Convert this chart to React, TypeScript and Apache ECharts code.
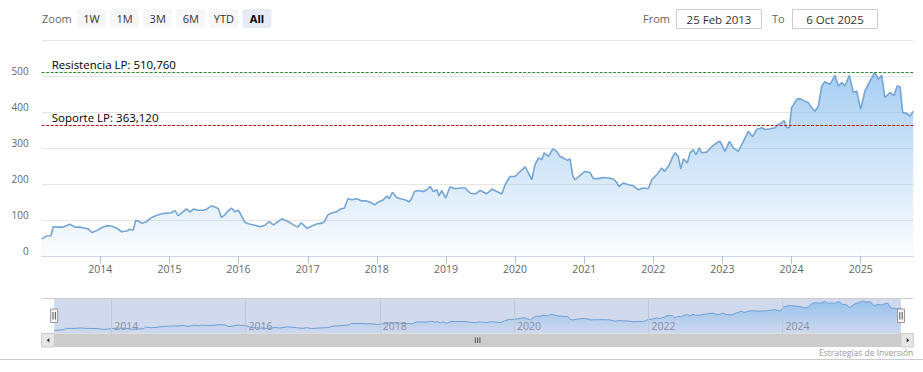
import React, { useEffect, useRef } from "react";
import * as echarts from "echarts";

// ---- data ----
const dates = [
  "2013-02-25","2013-03-22","2013-04-15","2013-04-27","2013-05-24","2013-06-19","2013-07-25","2013-08-20","2013-09-15","2013-10-12","2013-10-29","2013-11-16","2013-12-12",
  "2014-01-07","2014-02-03","2014-03-01","2014-03-28","2014-04-23","2014-05-20","2014-06-07","2014-06-24","2014-07-06","2014-07-20","2014-08-07","2014-09-02","2014-09-29","2014-10-25","2014-11-20","2014-12-17",
  "2015-01-12","2015-01-30","2015-02-17","2015-03-15","2015-04-01","2015-04-19","2015-05-07","2015-06-02","2015-06-28","2015-07-16","2015-08-12","2015-08-29","2015-09-16","2015-10-03","2015-10-21","2015-11-08","2015-11-25","2015-12-13","2015-12-31",
  "2016-01-17","2016-02-04","2016-03-02","2016-03-28","2016-04-25","2016-05-22","2016-06-11","2016-07-04","2016-08-17","2016-09-21","2016-10-18","2016-11-10","2016-11-27","2016-12-27",
  "2017-01-23","2017-02-18","2017-03-17","2017-03-30","2017-04-17","2017-05-08","2017-06-04","2017-06-21","2017-07-14","2017-08-01","2017-08-22","2017-09-17","2017-10-14","2017-11-09","2017-12-06","2017-12-19",
  "2018-01-10","2018-02-05","2018-02-23","2018-03-07","2018-03-25","2018-04-17","2018-05-13","2018-06-09","2018-06-21","2018-07-05","2018-07-19","2018-08-09","2018-09-04","2018-09-22","2018-10-10","2018-10-27","2018-11-14","2018-11-26","2018-12-10","2018-12-31",
  "2019-01-23","2019-02-19","2019-03-17","2019-04-13","2019-05-09","2019-06-04","2019-07-01","2019-08-05","2019-09-01","2019-09-27","2019-10-23","2019-11-10","2019-12-06",
  "2020-01-02","2020-01-28","2020-02-24","2020-03-12","2020-03-30","2020-04-16","2020-05-04","2020-05-22","2020-06-03","2020-06-26","2020-07-19","2020-08-09","2020-08-26","2020-09-13","2020-10-04","2020-10-18","2020-11-02","2020-11-14","2020-12-10",
  "2021-01-05","2021-02-01","2021-02-18","2021-03-17","2021-04-12","2021-05-09","2021-06-04","2021-06-22","2021-07-04","2021-07-27","2021-08-22","2021-09-18","2021-10-14","2021-11-09","2021-12-06","2021-12-24",
  "2022-01-19","2022-02-15","2022-02-28","2022-03-27","2022-04-14","2022-04-26","2022-05-13","2022-05-26","2022-06-09","2022-06-30","2022-07-14","2022-07-31","2022-08-15","2022-09-01","2022-09-14","2022-10-10","2022-11-06","2022-12-02","2022-12-20",
  "2023-01-15","2023-02-07","2023-02-28","2023-03-26","2023-04-22","2023-05-18","2023-06-10","2023-07-01","2023-07-28","2023-08-14","2023-09-10","2023-10-06","2023-10-24","2023-11-11","2023-11-24","2023-12-07","2023-12-21",
  "2024-01-02","2024-01-29","2024-02-15","2024-03-12","2024-03-30","2024-04-17","2024-05-04","2024-05-22","2024-06-09","2024-06-26","2024-07-23","2024-08-18","2024-09-05","2024-09-23","2024-10-10","2024-11-02","2024-11-23","2024-12-11",
  "2025-01-01","2025-01-23","2025-02-19","2025-03-17","2025-04-04","2025-04-22","2025-05-09","2025-06-05","2025-06-26","2025-07-13","2025-07-28","2025-08-11","2025-09-01","2025-09-18","2025-10-06"
];
const values = [
  47,55,56,81,80,80,88,80,80,77,75,65,70,
  78,84,83,77,67,69,74,72,98,97,91,95,107,112,117,119,
  120,126,112,123,131,122,130,127,127,130,139,136,132,107,114,126,133,123,127,
  111,93,88,85,81,86,95,86,103,95,86,80,92,77,
  83,89,91,95,114,119,123,130,133,159,156,159,153,153,147,142,
  150,156,167,159,177,162,158,154,150,161,179,182,179,184,193,179,184,167,182,161,
  192,187,189,189,175,172,182,173,186,179,172,198,221,
  221,235,248,231,212,254,273,268,287,277,298,291,277,273,266,270,221,212,224,
  235,232,215,215,218,217,214,204,193,203,198,195,184,189,187,212,
  226,245,235,254,277,287,277,242,270,259,287,296,282,301,287,289,304,315,319,
  291,319,301,291,319,347,332,352,357,352,354,357,366,371,377,357,357,
  413,436,438,431,427,413,403,417,473,485,478,503,473,483,473,503,455,459,
  408,459,487,511,492,503,441,455,447,473,471,399,397,389,403
];
const resistance = 510.76;
const support = 363.12;
const navYears = [2014, 2016, 2018, 2020, 2022, 2024];
const rangeButtons = ["1W", "1M", "3M", "6M", "YTD", "All"];
const selectedButton = "All";
const monthNames = ["Jan","Feb","Mar","Apr","May","Jun","Jul","Aug","Sep","Oct","Nov","Dec"];
const creditText = "Estrategias de Inversión";

const W = 923;
const H = 372;
const FONT = '"Open Sans", "DejaVu Sans", sans-serif';
const ONE_YEAR = 365 * 24 * 3600 * 1000;

function toTs(s: string) {
  const [y, m, d] = s.split("-").map(Number);
  return Date.UTC(y, m - 1, d);
}
function fmtDate(ts: number) {
  const d = new Date(ts);
  return `${d.getUTCDate()} ${monthNames[d.getUTCMonth()]} ${d.getUTCFullYear()}`;
}
function fmtNum(v: number) {
  return v.toFixed(3).replace(".", ",");
}

export default function App() {
  const ref = useRef<HTMLDivElement>(null);

  useEffect(() => {
    if (!ref.current) return;
    const chart = echarts.init(ref.current, null, { renderer: "svg", width: W, height: H });

    const tsData = dates.map((d, i) => [toTs(d), values[i]]);
    const tMin = tsData[0][0] as number;
    const tMax = tsData[tsData.length - 1][0] as number;
    const navTs = navYears.map((y) => Date.UTC(y, 0, 1));
    const grad = () =>
      new echarts.graphic.LinearGradient(0, 0, 0, 1, [
        { offset: 0, color: "rgba(124,181,236,0.95)" },
        { offset: 1, color: "rgba(124,181,236,0.04)" },
      ]);
    const yearFmt = (v: number) => {
      const d = new Date(v);
      return d.getUTCMonth() === 0 && d.getUTCDate() === 1 ? String(d.getUTCFullYear()) : "";
    };

    const graphics: any[] = [];
    graphics.push({
      type: "text", x: 42, y: 18.5,
      style: { text: "Zoom", fill: "#666666", fontSize: 11, fontFamily: FONT, textAlign: "left", textVerticalAlign: "middle", align: "left", verticalAlign: "middle" },
    });
    rangeButtons.forEach((b, i) => {
      const x = 77 + i * 33.1;
      const sel = b === selectedButton;
      graphics.push({
        type: "rect", shape: { x, y: 9, width: 29, height: 19, r: 2 },
        style: { fill: sel ? "#e6ebf5" : "#f7f7f7" },
      });
      graphics.push({
        type: "text", x: x + 14.5, y: 18.5,
        style: { text: b, fill: sel ? "#000000" : "#333333", fontSize: 11, fontWeight: sel ? "bold" : "normal", fontFamily: FONT, textAlign: "center", textVerticalAlign: "middle", align: "center", verticalAlign: "middle" },
      });
    });
    const inputs = [
      { label: "From", lx: 643, bx: 676.5, text: fmtDate(tMin) },
      { label: "To", lx: 772, bx: 792.5, text: fmtDate(tMax) },
    ];
    inputs.forEach((inp) => {
      graphics.push({
        type: "text", x: inp.lx, y: 18.5,
        style: { text: inp.label, fill: "#666666", fontSize: 11, fontFamily: FONT, textAlign: "left", textVerticalAlign: "middle", align: "left", verticalAlign: "middle" },
      });
      graphics.push({
        type: "rect", shape: { x: inp.bx, y: 9.5, width: 85, height: 19 },
        style: { fill: "#ffffff", stroke: "#cccccc", lineWidth: 1 },
      });
      graphics.push({
        type: "text", x: inp.bx + 42.5, y: 19,
        style: { text: inp.text, fill: "#333333", fontSize: 11.5, fontFamily: FONT, textAlign: "center", textVerticalAlign: "middle", align: "center", verticalAlign: "middle" },
      });
    });
    graphics.push({ type: "line", shape: { x1: 41.7, y1: 298.5, x2: 913.3, y2: 298.5 }, style: { stroke: "#cccccc", lineWidth: 1 }, z: 10 });
    [54.2, 901].forEach((hx) => {
      graphics.push({ type: "rect", shape: { x: hx - 3.5, y: 309, width: 7, height: 13.5 }, style: { fill: "#f2f2f2", stroke: "#999999", lineWidth: 1 }, z: 12 });
      graphics.push({ type: "line", shape: { x1: hx - 1.2, y1: 312, x2: hx - 1.2, y2: 319.5 }, style: { stroke: "#333333", lineWidth: 0.8 }, z: 13 });
      graphics.push({ type: "line", shape: { x1: hx + 1.2, y1: 312, x2: hx + 1.2, y2: 319.5 }, style: { stroke: "#333333", lineWidth: 0.8 }, z: 13 });
    });
    graphics.push({ type: "rect", shape: { x: 41.7, y: 333.5, width: 871.6, height: 13.5 }, style: { fill: "#f2f2f2" }, z: 10 });
    graphics.push({ type: "rect", shape: { x: 54.2, y: 333.5, width: 846.8, height: 13.5 }, style: { fill: "#cccccc" }, z: 11 });
    graphics.push({ type: "rect", shape: { x: 41.7, y: 333.5, width: 12.5, height: 13.5 }, style: { fill: "#e6e6e6", stroke: "#cccccc", lineWidth: 1 }, z: 11 });
    graphics.push({ type: "rect", shape: { x: 901, y: 333.5, width: 12.3, height: 13.5 }, style: { fill: "#e6e6e6", stroke: "#cccccc", lineWidth: 1 }, z: 11 });
    graphics.push({ type: "polygon", shape: { points: [[46.7, 340.2], [49.4, 338], [49.4, 342.4]] }, style: { fill: "#333333" }, z: 12 });
    graphics.push({ type: "polygon", shape: { points: [[909.3, 340.2], [906.6, 338], [906.6, 342.4]] }, style: { fill: "#333333" }, z: 12 });
    [475.3, 477.6, 479.9].forEach((rx) => {
      graphics.push({ type: "line", shape: { x1: rx, y1: 337.5, x2: rx, y2: 343 }, style: { stroke: "#333333", lineWidth: 0.8 }, z: 12 });
    });
    graphics.push({ type: "line", shape: { x1: 0, y1: 359.5, x2: 923, y2: 359.5 }, style: { stroke: "#cccccc", lineWidth: 1 } });
    graphics.push({
      type: "text", x: 913.3, y: 352,
      style: { text: creditText, fill: "#999999", fontSize: 8.5, fontFamily: FONT, textAlign: "right", textVerticalAlign: "middle", align: "right", verticalAlign: "middle" },
    });

    const lineLabel = {
      show: true, position: "insideStartTop", distance: [10, 2],
      color: "#000000", fontSize: 11.5, fontFamily: FONT,
    };

    const mkLevel = (name: string, value: number, color: string) => ({
      type: "line", xAxisIndex: 0, yAxisIndex: 0, data: [] as any[], silent: true,
      symbol: "none", z: 5,
      markLine: {
        silent: true, symbol: "none",
        lineStyle: { color, type: [3, 1.5], width: 1, opacity: 1 },
        label: { ...lineLabel, formatter: `${name}: ${fmtNum(value)}` },
        data: [{ yAxis: value }],
      },
    });

    chart.setOption({
      animation: false,
      useUTC: true,
      backgroundColor: "#ffffff",
      textStyle: { fontFamily: FONT },
      grid: [
        { left: 41.7, right: W - 913.3, top: 40.5, height: 215.3, containLabel: false },
        { left: 54.2, right: W - 901, top: 298.5, height: 35, containLabel: false },
      ],
      xAxis: [
        {
          type: "time", gridIndex: 0, min: tMin, max: tMax,
          minInterval: ONE_YEAR, maxInterval: ONE_YEAR,
          axisLine: { show: true, lineStyle: { color: "#ccd6eb", width: 1 } },
          axisTick: { show: true, length: 8, interval: 0, lineStyle: { color: "#b5c2dc", width: 1 } },
          axisLabel: { formatter: yearFmt, showMinLabel: false, showMaxLabel: false, color: "#666666", fontSize: 10.5, fontFamily: FONT, margin: 8, hideOverlap: false },
          splitLine: { show: false },
        },
        {
          type: "time", gridIndex: 1, min: tMin, max: tMax, show: false,
          splitLine: { show: false },
        },
      ],
      yAxis: [
        {
          type: "value", gridIndex: 0, min: 0, max: 600, interval: 100,
          axisLine: { show: false }, axisTick: { show: false },
          axisLabel: { color: "#666666", fontSize: 10, fontFamily: FONT, margin: 13, verticalAlign: "bottom", showMaxLabel: false },
          splitLine: { show: true, lineStyle: { color: "#e6e6e6", width: 1 } },
        },
        {
          type: "value", gridIndex: 1, min: 0, max: 550, show: false,
          splitLine: { show: false },
        },
      ],
      series: [
        {
          type: "line", xAxisIndex: 0, yAxisIndex: 0, data: tsData,
          symbol: "none", showSymbol: false, silent: true,
          lineStyle: { color: "#74a5d6", width: 1.6 },
          areaStyle: { color: grad() },
        },
        mkLevel("Resistencia LP", resistance, "#2f8a2f"),
        mkLevel("Soporte LP", support, "#b81414"),
        {
          type: "line", xAxisIndex: 1, yAxisIndex: 1, data: tsData,
          symbol: "none", showSymbol: false, silent: true,
          lineStyle: { color: "#6f9fd6", width: 1 },
          areaStyle: { color: grad() },
          markArea: {
            silent: true,
            itemStyle: { color: "rgba(102,133,194,0.3)" },
            data: [[{ xAxis: tMin }, { xAxis: tMax }]],
          },
          markLine: {
            silent: true, symbol: "none",
            lineStyle: { color: "#c0c8dc", type: "solid", width: 1 },
            label: {
              show: true, position: "start", distance: 0, offset: [15, -13],
              formatter: (p: any) => String(new Date(p.value).getUTCFullYear()),
              color: "#8a90a2", fontSize: 10.5, fontFamily: FONT,
            },
            data: navTs.map((t) => ({ xAxis: t })),
          },
        },
      ],
      graphic: { elements: graphics },
    });

    return () => chart.dispose();
  }, []);

  return (
    <div
      ref={ref}
      style={{ position: "fixed", left: 0, top: 0, width: W, height: H, background: "#ffffff" }}
    />
  );
}
